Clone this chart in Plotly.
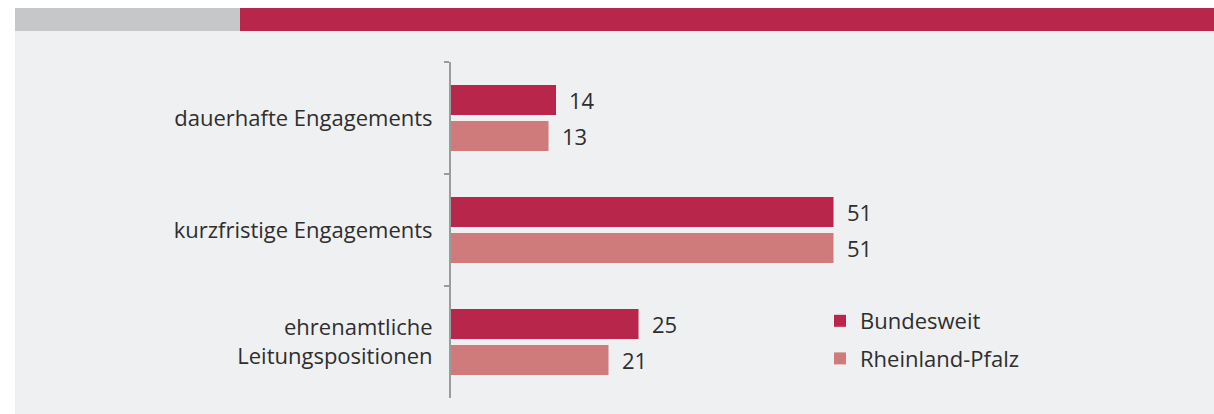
import plotly.graph_objects as go

categories = ["dauerhafte Engagements", "kurzfristige Engagements", "ehrenamtliche<br>Leitungspositionen"]
bundesweit = [14, 51, 25]
rlp = [13, 51, 21]
series_names = ["Bundesweit", "Rheinland-Pfalz"]
colors = ["#b8264b", "#d07b7b"]

W, H = 1214, 414
L, R, T, B = 451, 13, 62, 16
pw = W - L - R
ph = H - T - B

def px(x):
    return (x - L) / pw

def py(y):
    return (H - B - y) / ph

FONT = "Open Sans"
TXT = "#2e2e2e"

fig = go.Figure()
for name, vals, col in zip(series_names, [bundesweit, rlp], colors):
    fig.add_trace(go.Bar(
        y=categories, x=vals, name=name, orientation="h", legendgroup=name,
        marker=dict(color=col, line=dict(width=0)),
    ))

annotations = []
for vals, shift in [(bundesweit, 18), (rlp, -18)]:
    for c, v in zip(categories, vals):
        annotations.append(dict(
            x=v, y=c, xref="x", yref="y", text=str(v), showarrow=False,
            xanchor="left", yanchor="middle", xshift=11, yshift=shift,
            font=dict(family=FONT, size=22, color=TXT),
        ))

shapes = [
    dict(type="rect", xref="paper", yref="paper", x0=px(15), x1=px(1214), y0=py(414), y1=py(31),
         fillcolor="#eff0f2", line=dict(width=0), layer="below"),
    dict(type="rect", xref="paper", yref="paper", x0=px(15), x1=px(240), y0=py(31), y1=py(8),
         fillcolor="#c6c7c9", line=dict(width=0), layer="below"),
    dict(type="rect", xref="paper", yref="paper", x0=px(240), x1=px(1214), y0=py(31), y1=py(8),
         fillcolor="#b8264b", line=dict(width=0), layer="below"),
]

fig.update_layout(
    width=W, height=H,
    margin=dict(l=L, r=R, t=T, b=B, pad=0),
    paper_bgcolor="white", plot_bgcolor="rgba(0,0,0,0)",
    barmode="group", bargap=0.357, bargroupgap=0.167,
    font=dict(family=FONT, size=22, color=TXT),
    xaxis=dict(range=[0, 100], visible=False, fixedrange=True),
    yaxis=dict(autorange="reversed", showline=True, linecolor="#9b9b9b", linewidth=2,
               ticks="outside", tickson="boundaries", ticklen=5, tickcolor="#9b9b9b", tickwidth=2,
               showgrid=False, zeroline=False, ticklabelstandoff=12, fixedrange=True,
               tickfont=dict(family=FONT, size=22, color=TXT)),
    legend=dict(x=px(820), y=py(300), xanchor="left", yanchor="top",
                bgcolor="rgba(0,0,0,0)", font=dict(family=FONT, size=22, color=TXT),
                traceorder="grouped", tracegroupgap=6),
    annotations=annotations,
    shapes=shapes,
)

fig.write_html("out.html", config={"displayModeBar": False},
               post_script="document.body.style.margin='0px';"
                           "document.body.style.overflow='hidden';"
                           "document.documentElement.style.overflow='hidden';")
